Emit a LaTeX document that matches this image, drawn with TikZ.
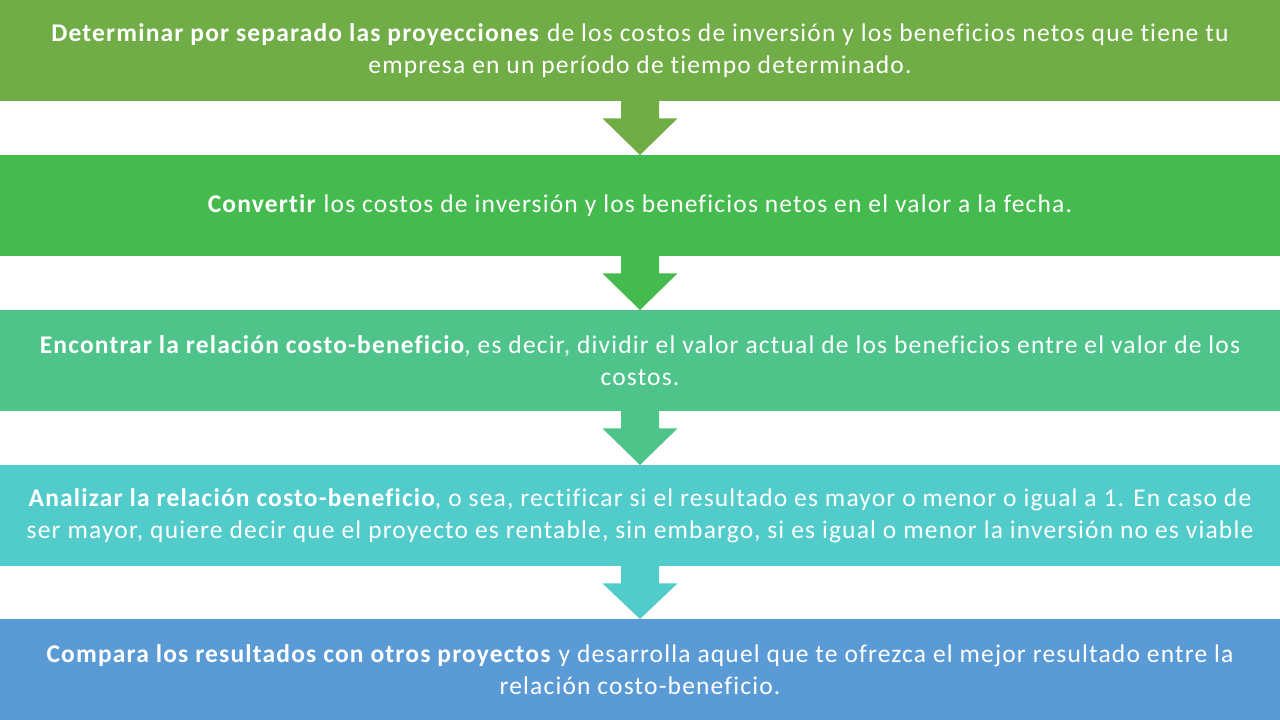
\documentclass[tikz,border=0pt]{standalone}
\usepackage{fontspec}
\setmainfont{Carlito}[LetterSpace=4.6,Ligatures=NoCommon]
\usetikzlibrary{calc}
\definecolor{c1}{HTML}{70AD47}
\definecolor{c2}{HTML}{45BB4F}
\definecolor{c3}{HTML}{4EC48B}
\definecolor{c4}{HTML}{52CBCB}
\definecolor{c5}{HTML}{5B9BD5}
\tikzset{
  stepbox/.style={rectangle, draw=none, fill=#1, minimum width=1280pt, minimum height=101pt,
    inner sep=0pt, text=white, align=center, font=\fontsize{25.5}{32}\selectfont, anchor=north},
  blockarrow/.style={fill=#1, draw=none}
}
\newcommand{\blockarr}[3]{%
  \fill[blockarrow=#3]
    ($(#1.south)+(-19pt,1pt)$) -- ($(#1.south)+(19pt,1pt)$) --
    ($(#1.south)+(19pt,-17pt)$) -- ($(#1.south)+(37.5pt,-17pt)$) --
    (#2.north) -- ($(#1.south)+(-37.5pt,-17pt)$) --
    ($(#1.south)+(-19pt,-17pt)$) -- cycle;}
\begin{document}
\begin{tikzpicture}[x=1pt,y=1pt]
\useasboundingbox (0,0) rectangle (1280,-720);
\fill[white] (0,0) rectangle (1280,-720);
\node[stepbox=c1] (b1) at (640,0) {\textbf{Determinar por separado las proyecciones} de los costos de inversión y los beneficios netos que tiene tu\\empresa en un período de tiempo determinado.};
\node[stepbox=c2] (b2) at (640,-155) {\textbf{Convertir} los costos de inversión y los beneficios netos en el valor a la fecha.};
\node[stepbox=c3] (b3) at (640,-310) {\textbf{Encontrar la relación costo-beneficio}, es decir, dividir el valor actual de los beneficios entre el valor de los\\costos.};
\node[stepbox=c4] (b4) at (640,-465) {\textbf{Analizar la relación costo-beneficio}, o sea, rectificar si el resultado es mayor o menor o igual a 1. En caso de\\ser mayor, quiere decir que el proyecto es rentable, sin embargo, si es igual o menor la inversión no es viable};
\node[stepbox=c5] (b5) at (640,-619) {\textbf{Compara los resultados con otros proyectos} y desarrolla aquel que te ofrezca el mejor resultado entre la\\relación costo-beneficio.};
\blockarr{b1}{b2}{c1}
\blockarr{b2}{b3}{c2}
\blockarr{b3}{b4}{c3}
\blockarr{b4}{b5}{c4}
\end{tikzpicture}
\end{document}
